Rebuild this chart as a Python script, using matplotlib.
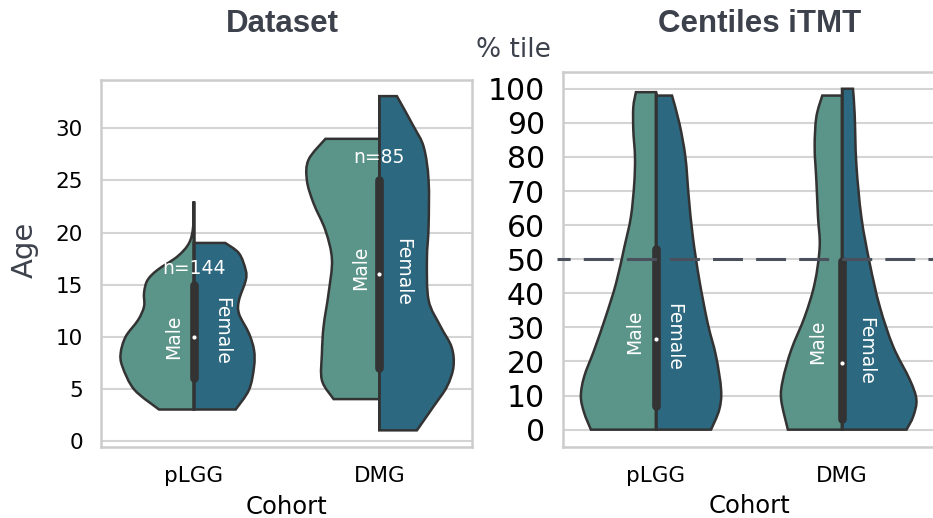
import numpy as np
import matplotlib.pyplot as plt
from matplotlib.path import Path
from matplotlib.patches import PathPatch

cohorts = ["pLGG", "DMG"]
n_patients = [144, 85]

# Age outlines: heights (years) and half-widths (category units), bottom to top
age_plgg_male_y = [3.0, 4.9, 7.1, 8.4, 10.0, 11.6, 12.9, 14.2, 15.4, 16.4, 17.7, 19.0, 20.6, 23.0]
age_plgg_male_w = [0.187, 0.32, 0.384, 0.394, 0.367, 0.30, 0.268, 0.268, 0.25, 0.196, 0.088, 0.025, 0.003, 0.0]
age_plgg_female_y = [3.0, 4.9, 7.1, 8.7, 10.3, 12.2, 13.5, 15.4, 16.4, 18.0, 19.0]
age_plgg_female_w = [0.226, 0.298, 0.325, 0.325, 0.298, 0.244, 0.244, 0.28, 0.28, 0.244, 0.17]
age_dmg_male_y = [4.0, 5.8, 8.4, 11.0, 14.2, 17.4, 20.2, 22.8, 25.0, 27.0, 29.0]
age_dmg_male_w = [0.246, 0.309, 0.309, 0.30, 0.273, 0.255, 0.29, 0.354, 0.39, 0.381, 0.29]
age_dmg_female_y = [1.0, 3.3, 5.2, 7.1, 9.0, 11.0, 13.5, 17.4, 20.6, 25.0, 28.2, 30.2, 33.1]
age_dmg_female_w = [0.203, 0.293, 0.365, 0.40, 0.39, 0.33, 0.266, 0.257, 0.266, 0.266, 0.24, 0.185, 0.095]

age_q1 = [6.0, 7.0]
age_median = [10.0, 16.0]
age_q3 = [15.0, 25.0]
age_min = [3.0, 1.0]
age_max = [23.0, 33.0]

# iTMT centile outlines
pct_plgg_male_y = [0.0, 4.9, 9.75, 15.6, 23.4, 33.2, 42.9, 53.6, 62.4, 72.2, 80.0, 87.8, 94.6, 99.0]
pct_plgg_male_w = [0.35, 0.386, 0.404, 0.386, 0.332, 0.27, 0.215, 0.17, 0.135, 0.117, 0.113, 0.122, 0.122, 0.108]
pct_plgg_female_y = [0.0, 5.85, 11.7, 21.5, 31.2, 43.9, 56.6, 68.3, 80.0, 89.8, 98.0]
pct_plgg_female_w = [0.296, 0.34, 0.35, 0.323, 0.278, 0.233, 0.198, 0.176, 0.158, 0.126, 0.086]
pct_dmg_male_y = [0.0, 8.8, 14.6, 23.4, 33.2, 42.9, 53.6, 62.4, 73.2, 82.9, 91.7, 98.0]
pct_dmg_male_w = [0.291, 0.327, 0.318, 0.273, 0.20, 0.147, 0.12, 0.129, 0.138, 0.147, 0.138, 0.106]
pct_dmg_female_y = [0.0, 3.9, 8.8, 14.6, 24.4, 36.1, 48.8, 62.4, 78.0, 92.7, 100.0]
pct_dmg_female_w = [0.347, 0.383, 0.40, 0.365, 0.275, 0.203, 0.149, 0.104, 0.077, 0.068, 0.059]

pct_q1 = [7.0, 3.0]
pct_median = [26.6, 19.5]
pct_q3 = [53.0, 49.5]
pct_min = [0.0, 0.0]
pct_max = [99.0, 100.0]
threshold = 50

MALE_COLOR = "#5b9489"
FEMALE_COLOR = "#2c6880"
EDGE = "#333333"
SLATE = "#3c414c"


def smooth_path(pts):
    """Catmull-Rom through pts, returned as cubic bezier vertices/codes"""
    pts = np.asarray(pts, dtype=float)
    ext = np.vstack([pts[0], pts, pts[-1]])
    verts = [pts[0]]
    codes = [Path.MOVETO]
    for i in range(1, len(ext) - 2):
        p0, p1, p2, p3 = ext[i - 1], ext[i], ext[i + 1], ext[i + 2]
        verts += [p1 + (p2 - p0) / 6, p2 - (p3 - p1) / 6, p2]
        codes += [Path.CURVE4] * 3
    return verts, codes


def half_violin(ax, center, ys, ws, side, color):
    sign = -1 if side == "left" else 1
    outline = [(center + sign * w, y) for y, w in zip(ys, ws)]
    verts, codes = smooth_path(outline)
    verts = [(center, ys[0])] + [verts[0]] + verts[1:] + [(center, ys[-1]), (center, ys[0])]
    codes = [Path.MOVETO, Path.LINETO] + codes[1:] + [Path.LINETO, Path.CLOSEPOLY]
    patch = PathPatch(Path(verts, codes), facecolor=color, edgecolor=EDGE,
                      lw=1.8, joinstyle="miter", zorder=2)
    ax.add_patch(patch)


def inner_box(ax, center, lo, q1, med, q3, hi):
    ax.plot([center, center], [lo, hi], color=EDGE, lw=1.8, zorder=3,
            solid_capstyle="butt")
    ax.plot([center, center], [q1, q3], color=EDGE, lw=6.2, zorder=3,
            solid_capstyle="round")
    ax.scatter([center], [med], s=9, color="white", zorder=4, linewidths=0)


def style_axes(ax, yticks, ysize):
    ax.set_facecolor("white")
    ax.set_xlim(-0.5, 1.5)
    ax.set_xticks(range(len(cohorts)))
    ax.set_xticklabels(cohorts, fontsize=15.5)
    ax.set_yticks(yticks)
    ax.tick_params(axis="y", labelsize=ysize, length=0, pad=13)
    ax.tick_params(axis="x", length=0, pad=14)
    ax.yaxis.grid(True, color="#d4d4d4", lw=1.5, zorder=0)
    ax.xaxis.grid(False)
    ax.set_axisbelow(True)
    for sp in ax.spines.values():
        sp.set_color("#cccccc")
        sp.set_linewidth(1.8)
    ax.set_xlabel("Cohort", fontsize=17.5, labelpad=6)


fig = plt.figure(figsize=(9.33, 5.18), dpi=100)
ax1 = fig.add_axes([101 / 933, 71 / 518, 371 / 933, 367 / 518])
ax2 = fig.add_axes([563 / 933, 71.3 / 518, 372 / 933, 375 / 518])

# Left panel: age by cohort and sex
half_violin(ax1, 0, age_plgg_male_y, age_plgg_male_w, "left", MALE_COLOR)
half_violin(ax1, 0, age_plgg_female_y, age_plgg_female_w, "right", FEMALE_COLOR)
half_violin(ax1, 1, age_dmg_male_y, age_dmg_male_w, "left", MALE_COLOR)
half_violin(ax1, 1, age_dmg_female_y, age_dmg_female_w, "right", FEMALE_COLOR)
for i in range(len(cohorts)):
    inner_box(ax1, i, age_min[i], age_q1[i], age_median[i], age_q3[i], age_max[i])

style_axes(ax1, range(0, 31, 5), 15.5)
ax1.set_ylim(-0.6, 34.65)
ax1.text(-0.205, 0.537, "Age", transform=ax1.transAxes, rotation=90,
         ha="center", va="center", fontsize=21, color=SLATE)

lbl = dict(color="white", fontsize=13.5, ha="center", va="center", zorder=5)
ax1.text(0.0, 16.5, f"n={n_patients[0]}", **lbl)
ax1.text(1.0, 27.2, f"n={n_patients[1]}", **lbl)
ax1.text(-0.11, 10.0, "Male", rotation=90, **lbl)
ax1.text(0.15, 10.5, "Female", rotation=270, **lbl)
ax1.text(0.9, 16.6, "Male", rotation=90, **lbl)
ax1.text(1.125, 16.2, "Female", rotation=270, **lbl)

# Right panel: iTMT centiles
half_violin(ax2, 0, pct_plgg_male_y, pct_plgg_male_w, "left", MALE_COLOR)
half_violin(ax2, 0, pct_plgg_female_y, pct_plgg_female_w, "right", FEMALE_COLOR)
half_violin(ax2, 1, pct_dmg_male_y, pct_dmg_male_w, "left", MALE_COLOR)
half_violin(ax2, 1, pct_dmg_female_y, pct_dmg_female_w, "right", FEMALE_COLOR)
for i in range(len(cohorts)):
    inner_box(ax2, i, pct_min[i], pct_q1[i], pct_median[i], pct_q3[i], pct_max[i])

style_axes(ax2, range(0, 101, 10), 21.5)
ax2.set_ylim(-5, 105)
ax2.plot([-0.532, 1.5], [threshold, threshold], color="#4a505c", lw=2.2,
         linestyle=(5.5, (9.8, 4.3)), zorder=6, clip_on=False)

ax2.text(-0.117, 28.8, "Male", rotation=90, **lbl)
ax2.text(0.095, 27.1, "Female", rotation=270, **lbl)
ax2.text(0.867, 25.8, "Male", rotation=90, **lbl)
ax2.text(1.128, 23.2, "Female", rotation=270, **lbl)

fig.text(513 / 933, 1 - 50 / 518, "% tile", fontsize=19, color=SLATE,
         ha="center", va="center")

title_font = dict(family="Liberation Sans", weight="bold", fontsize=22.5,
                  color=SLATE, ha="center", va="center")
fig.text(282.5 / 933, 1 - 23.5 / 518, "Dataset", **title_font)
fig.text(760 / 933, 1 - 23.5 / 518, "Centiles iTMT", **title_font)

fig.savefig("out.png", dpi=100)
